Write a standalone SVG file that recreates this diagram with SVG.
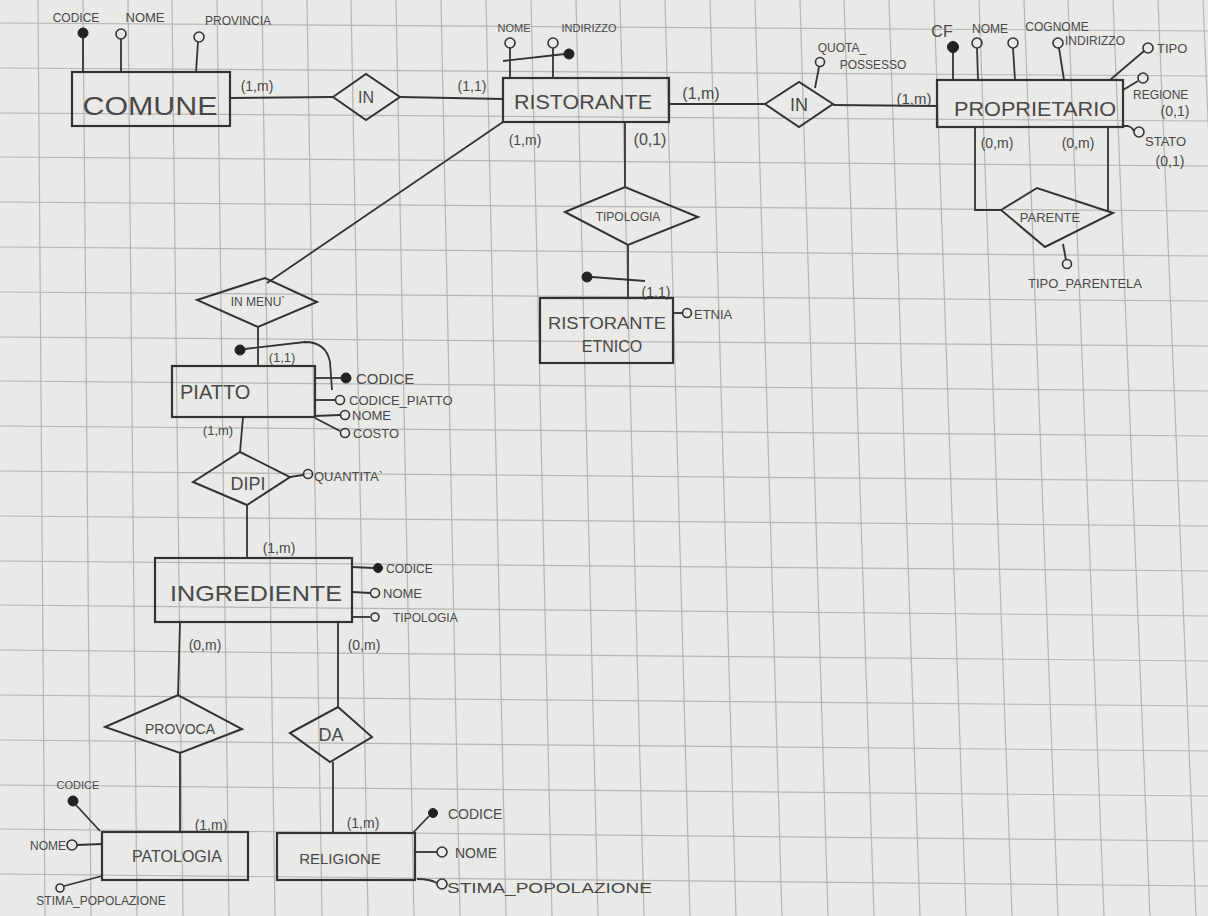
<svg xmlns="http://www.w3.org/2000/svg" width="1208" height="916" viewBox="0 0 1208 916">
<defs>
<style>
.bg{fill:#e9e9e7}
.grid line{stroke:#b5b5b5;stroke-width:1.2}
.ent{fill:none;stroke:#333;stroke-width:2.2}
.rel{fill:none;stroke:#333;stroke-width:2}
.ln{fill:none;stroke:#333;stroke-width:1.8}
.oc{fill:none;stroke:#333;stroke-width:1.6}
.fc{fill:#222;stroke:#222;stroke-width:1}
text{font-family:"Liberation Sans",Arial,sans-serif;fill:#484848}
.t{text-anchor:middle}
.c{font-size:14px;text-anchor:middle}
.a{font-size:13px}
</style>
</defs>
<rect class="bg" x="0" y="0" width="1208" height="916"/>
<g class="grid" id="grid-paper">
<line x1="38" y1="0" x2="45" y2="916"/><line x1="83" y1="0" x2="91" y2="916"/><line x1="128" y1="0" x2="137" y2="916"/><line x1="172" y1="0" x2="183" y2="916"/><line x1="217" y1="0" x2="229" y2="916"/><line x1="262" y1="0" x2="275" y2="916"/><line x1="307" y1="0" x2="322" y2="916"/><line x1="351" y1="0" x2="368" y2="916"/><line x1="396" y1="0" x2="414" y2="916"/><line x1="441" y1="0" x2="460" y2="916"/><line x1="486" y1="0" x2="506" y2="916"/><line x1="531" y1="0" x2="552" y2="916"/><line x1="576" y1="0" x2="598" y2="916"/><line x1="620" y1="0" x2="644" y2="916"/><line x1="665" y1="0" x2="690" y2="916"/><line x1="710" y1="0" x2="736" y2="916"/><line x1="755" y1="0" x2="782" y2="916"/><line x1="800" y1="0" x2="828" y2="916"/><line x1="844" y1="0" x2="874" y2="916"/><line x1="889" y1="0" x2="920" y2="916"/><line x1="934" y1="0" x2="966" y2="916"/><line x1="979" y1="0" x2="1012" y2="916"/><line x1="1024" y1="0" x2="1058" y2="916"/><line x1="1068" y1="0" x2="1104" y2="916"/><line x1="1113" y1="0" x2="1150" y2="916"/><line x1="1158" y1="0" x2="1196" y2="916"/><line x1="1203" y1="0" x2="1242" y2="916"/>
<line x1="0" y1="23" x2="1208" y2="31"/><line x1="0" y1="68" x2="1208" y2="76"/><line x1="0" y1="113" x2="1208" y2="121"/><line x1="0" y1="157" x2="1208" y2="166"/><line x1="0" y1="202" x2="1208" y2="211"/><line x1="0" y1="247" x2="1208" y2="256"/><line x1="0" y1="292" x2="1208" y2="301"/><line x1="0" y1="337" x2="1208" y2="346"/><line x1="0" y1="381" x2="1208" y2="391"/><line x1="0" y1="426" x2="1208" y2="436"/><line x1="0" y1="471" x2="1208" y2="481"/><line x1="0" y1="516" x2="1208" y2="526"/><line x1="0" y1="561" x2="1208" y2="571"/><line x1="0" y1="605" x2="1208" y2="616"/><line x1="0" y1="650" x2="1208" y2="661"/><line x1="0" y1="695" x2="1208" y2="706"/><line x1="0" y1="740" x2="1208" y2="751"/><line x1="0" y1="785" x2="1208" y2="796"/><line x1="0" y1="829" x2="1208" y2="841"/><line x1="0" y1="874" x2="1208" y2="886"/>
</g>

<g id="connectors">
<line class="ln" x1="230" y1="98" x2="333" y2="97"/>
<line class="ln" x1="400" y1="97" x2="503" y2="99"/>
<line class="ln" x1="669" y1="104" x2="765" y2="104"/>
<line class="ln" x1="833" y1="105" x2="937" y2="106"/>
<line class="ln" x1="625" y1="122" x2="625" y2="187"/>
<line class="ln" x1="628" y1="245" x2="628" y2="298"/>
<polyline class="ln" points="975,127 975,210 1001,210"/>
<line class="ln" x1="1108" y1="127" x2="1108" y2="212"/>
<line class="ln" x1="503" y1="122" x2="267" y2="283"/>
<line class="ln" x1="258" y1="327" x2="258" y2="366"/>
<line class="ln" x1="243" y1="417" x2="240" y2="452"/>
<line class="ln" x1="247" y1="505" x2="247" y2="558"/>
<line class="ln" x1="180" y1="622" x2="178" y2="695"/>
<line class="ln" x1="180" y1="753" x2="180" y2="832"/>
<line class="ln" x1="338" y1="622" x2="338" y2="707"/>
<line class="ln" x1="333" y1="762" x2="333" y2="833"/>
<text class="c" x="257" y="91">(1,m)</text>
<text class="c" x="472" y="91">(1,1)</text>
<text class="c" x="701" y="99" style="font-size:16px">(1,m)</text>
<text class="c" x="914" y="104" style="font-size:15px">(1,m)</text>
<text class="c" x="525" y="145">(1,m)</text>
<text class="c" x="650" y="145" style="font-size:16px">(0,1)</text>
<text class="c" x="997" y="148">(0,m)</text>
<text class="c" x="1078" y="148">(0,m)</text>
<text class="c" x="656" y="297">(1,1)</text>
<text class="c" x="282" y="362" style="font-size:13px">(1,1)</text>
<text class="c" x="218" y="435" style="font-size:13px">(1,m)</text>
<text class="c" x="279" y="553">(1,m)</text>
<text class="c" x="205" y="650">(0,m)</text>
<text class="c" x="364" y="650">(0,m)</text>
<text class="c" x="211" y="830">(1,m)</text>
<text class="c" x="363" y="828">(1,m)</text>
</g>

<g id="comune">
<rect class="ent" x="72" y="72" width="158" height="54"/>
<text class="t" x="150" y="115" style="font-size:26px" textLength="135" lengthAdjust="spacingAndGlyphs">COMUNE</text>
<line class="ln" x1="83" y1="72" x2="83" y2="38"/><circle class="fc" cx="83" cy="33" r="5"/>
<line class="ln" x1="121" y1="72" x2="121" y2="39"/><circle class="oc" cx="121" cy="34" r="5"/>
<line class="ln" x1="196" y1="72" x2="198" y2="42"/><circle class="oc" cx="199" cy="37" r="5"/>
<text class="t" x="76" y="22" style="font-size:12px">CODICE</text>
<text class="t" x="145" y="22" style="font-size:13px">NOME</text>
<text class="t" x="238" y="25" style="font-size:12px">PROVINCIA</text>
</g>

<g id="rel-in-comune">
<polygon class="rel" points="333,97 366,74 400,97 366,120"/>
<text class="t" x="366" y="103" style="font-size:16px">IN</text>
</g>

<g id="ristorante">
<rect class="ent" x="503" y="78" width="166" height="44"/>
<text class="t" x="583" y="109" style="font-size:21px" textLength="138" lengthAdjust="spacingAndGlyphs">RISTORANTE</text>
<line class="ln" x1="510" y1="78" x2="510" y2="48"/><circle class="oc" cx="510" cy="43" r="5"/>
<line class="ln" x1="553" y1="78" x2="553" y2="48"/><circle class="oc" cx="553" cy="43" r="5"/>
<line class="ln" x1="503" y1="61" x2="565" y2="54"/><circle class="fc" cx="569" cy="54" r="5"/>
<text class="t" x="514" y="32" style="font-size:11px">NOME</text>
<text class="t" x="589" y="32" style="font-size:11px">INDIRIZZO</text>
</g>

<g id="rel-in-proprietario">
<polygon class="rel" points="765,104 799,82 833,104 799,127"/>
<text class="t" x="799" y="111" style="font-size:18px">IN</text>
<line class="ln" x1="815" y1="88" x2="819" y2="67"/><circle class="oc" cx="820" cy="62" r="4.5"/>
<text class="t" x="842" y="52" style="font-size:12px">QUOTA_</text>
<text class="t" x="873" y="69" style="font-size:12px">POSSESSO</text>
</g>

<g id="proprietario">
<rect class="ent" x="937" y="80" width="186" height="47"/>
<text class="t" x="1035" y="116" style="font-size:21px" textLength="162" lengthAdjust="spacingAndGlyphs">PROPRIETARIO</text>
<line class="ln" x1="953" y1="80" x2="953" y2="52"/><circle class="fc" cx="953" cy="47" r="5.5"/>
<line class="ln" x1="978" y1="80" x2="977" y2="48"/><circle class="oc" cx="977" cy="43" r="5"/>
<line class="ln" x1="1015" y1="80" x2="1013" y2="48"/><circle class="oc" cx="1013" cy="43" r="5"/>
<line class="ln" x1="1064" y1="80" x2="1059" y2="48"/><circle class="oc" cx="1058" cy="43" r="5"/>
<line class="ln" x1="1110" y1="80" x2="1144" y2="51"/><circle class="oc" cx="1148" cy="48" r="5"/>
<line class="ln" x1="1123" y1="90" x2="1138" y2="81"/><circle class="oc" cx="1143" cy="78" r="5"/>
<path class="ln" d="M1123,126 L1128,126 Q1132,127 1134,131"/><circle class="oc" cx="1139" cy="132" r="5"/>
<text class="t" x="942" y="37" style="font-size:16px">CF</text>
<text class="t" x="990" y="33" style="font-size:12px">NOME</text>
<text class="t" x="1057" y="31" style="font-size:12px">COGNOME</text>
<text x="1065" y="45" style="font-size:12px">INDIRIZZO</text>
<text x="1157" y="53" style="font-size:13px">TIPO</text>
<text x="1133" y="99" style="font-size:12px">REGIONE</text>
<text class="c" x="1175" y="116">(0,1)</text>
<text x="1145" y="146" style="font-size:13px">STATO</text>
<text class="c" x="1170" y="166">(0,1)</text>
</g>

<g id="rel-parente">
<polygon class="rel" points="1001,210 1037,188 1113,213 1045,247"/>
<text class="t" x="1050" y="222" style="font-size:13px">PARENTE</text>
<line class="ln" x1="1063" y1="244" x2="1066" y2="260"/><circle class="oc" cx="1067" cy="264" r="4.5"/>
<text class="t" x="1085" y="288" style="font-size:13px">TIPO_PARENTELA</text>
</g>

<g id="rel-tipologia">
<polygon class="rel" points="565,212 625,187 698,217 628,245"/>
<text class="t" x="628" y="221" style="font-size:12px">TIPOLOGIA</text>
<line class="ln" x1="592" y1="277" x2="645" y2="281"/><circle class="fc" cx="587" cy="277" r="5"/>
</g>

<g id="ristorante-etnico">
<rect class="ent" x="540" y="298" width="133" height="65"/>
<text class="t" x="607" y="329" style="font-size:16px" textLength="118" lengthAdjust="spacingAndGlyphs">RISTORANTE</text>
<text class="t" x="612" y="352" style="font-size:16px">ETNICO</text>
<line class="ln" x1="673" y1="313" x2="683" y2="313"/><circle class="oc" cx="687" cy="313" r="4.5"/>
<text x="694" y="319" style="font-size:13px">ETNIA</text>
</g>

<g id="rel-in-menu">
<polygon class="rel" points="197,300 265,278 317,302 258,327"/>
<text class="t" x="258" y="306" style="font-size:12px">IN MENU`</text>
</g>

<g id="piatto">
<rect class="ent" x="172" y="366" width="143" height="51"/>
<text x="180" y="399" style="font-size:20px">PIATTO</text>
<circle class="fc" cx="240" cy="350" r="5"/>
<path class="ln" d="M245,349 L305,342 Q326,342 330,362 L332,390"/>
<line class="ln" x1="315" y1="378" x2="341" y2="378"/><circle class="fc" cx="346" cy="378" r="5"/>
<line class="ln" x1="315" y1="400" x2="336" y2="400"/><circle class="oc" cx="340" cy="400" r="4.5"/>
<line class="ln" x1="315" y1="416" x2="340" y2="415"/><circle class="oc" cx="345" cy="415" r="4.5"/>
<line class="ln" x1="315" y1="418" x2="340" y2="431"/><circle class="oc" cx="345" cy="433" r="4.5"/>
<text x="356" y="384" style="font-size:15px">CODICE</text>
<text x="349" y="405" style="font-size:13px">CODICE_PIATTO</text>
<text x="352" y="420" style="font-size:13px">NOME</text>
<text x="353" y="438" style="font-size:13px">COSTO</text>
</g>

<g id="rel-dipi">
<polygon class="rel" points="193,482 240,452 290,477 247,505"/>
<text class="t" x="248" y="490" style="font-size:18px">DIPI</text>
<line class="ln" x1="290" y1="477" x2="303" y2="475"/><circle class="oc" cx="308" cy="474" r="4.5"/>
<text x="314" y="481" style="font-size:13px">QUANTITA`</text>
</g>

<g id="ingrediente">
<rect class="ent" x="155" y="558" width="197" height="64"/>
<text class="t" x="256" y="601" style="font-size:22px" textLength="172" lengthAdjust="spacingAndGlyphs">INGREDIENTE</text>
<line class="ln" x1="352" y1="567" x2="373" y2="568"/><circle class="fc" cx="378" cy="568" r="4.5"/>
<line class="ln" x1="352" y1="592" x2="370" y2="593"/><circle class="oc" cx="375" cy="593" r="4.5"/>
<line class="ln" x1="352" y1="617" x2="370" y2="617"/><circle class="oc" cx="375" cy="617" r="4"/>
<text x="386" y="573" style="font-size:12px">CODICE</text>
<text x="383" y="598" style="font-size:13px">NOME</text>
<text x="393" y="622" style="font-size:12px">TIPOLOGIA</text>
</g>

<g id="rel-provoca">
<polygon class="rel" points="105,727 178,695 242,729 180,753"/>
<text class="t" x="180" y="734" style="font-size:14px">PROVOCA</text>
</g>

<g id="rel-da">
<polygon class="rel" points="290,733 338,707 372,737 330,762"/>
<text class="t" x="331" y="741" style="font-size:18px">DA</text>
</g>

<g id="patologia">
<rect class="ent" x="102" y="832" width="146" height="48"/>
<text class="t" x="177" y="862" style="font-size:16px">PATOLOGIA</text>
<circle class="fc" cx="73" cy="801" r="5"/><line class="ln" x1="76" y1="805" x2="100" y2="831"/>
<circle class="oc" cx="72" cy="845" r="5"/><line class="ln" x1="77" y1="845" x2="102" y2="844"/>
<circle class="oc" cx="60" cy="888" r="4"/><line class="ln" x1="64" y1="886" x2="102" y2="876"/>
<text class="t" x="78" y="789" style="font-size:11px">CODICE</text>
<text x="66" y="850" style="font-size:12px;text-anchor:end">NOME</text>
<text class="t" x="101" y="905" style="font-size:12px">STIMA_POPOLAZIONE</text>
</g>

<g id="religione">
<rect class="ent" x="277" y="833" width="138" height="47"/>
<text class="t" x="340" y="864" style="font-size:15px">RELIGIONE</text>
<line class="ln" x1="412" y1="834" x2="429" y2="816"/><circle class="fc" cx="433" cy="813" r="4.5"/>
<line class="ln" x1="415" y1="852" x2="437" y2="852"/><circle class="oc" cx="442" cy="852" r="5"/>
<path class="ln" d="M417,879 Q430,879 437,883"/><circle class="oc" cx="442" cy="884" r="5"/>
<text x="448" y="819" style="font-size:14px">CODICE</text>
<text x="455" y="858" style="font-size:14px">NOME</text>
<text x="447" y="893" style="font-size:14px" textLength="205" lengthAdjust="spacingAndGlyphs">STIMA_POPOLAZIONE</text>
</g>
</svg>
